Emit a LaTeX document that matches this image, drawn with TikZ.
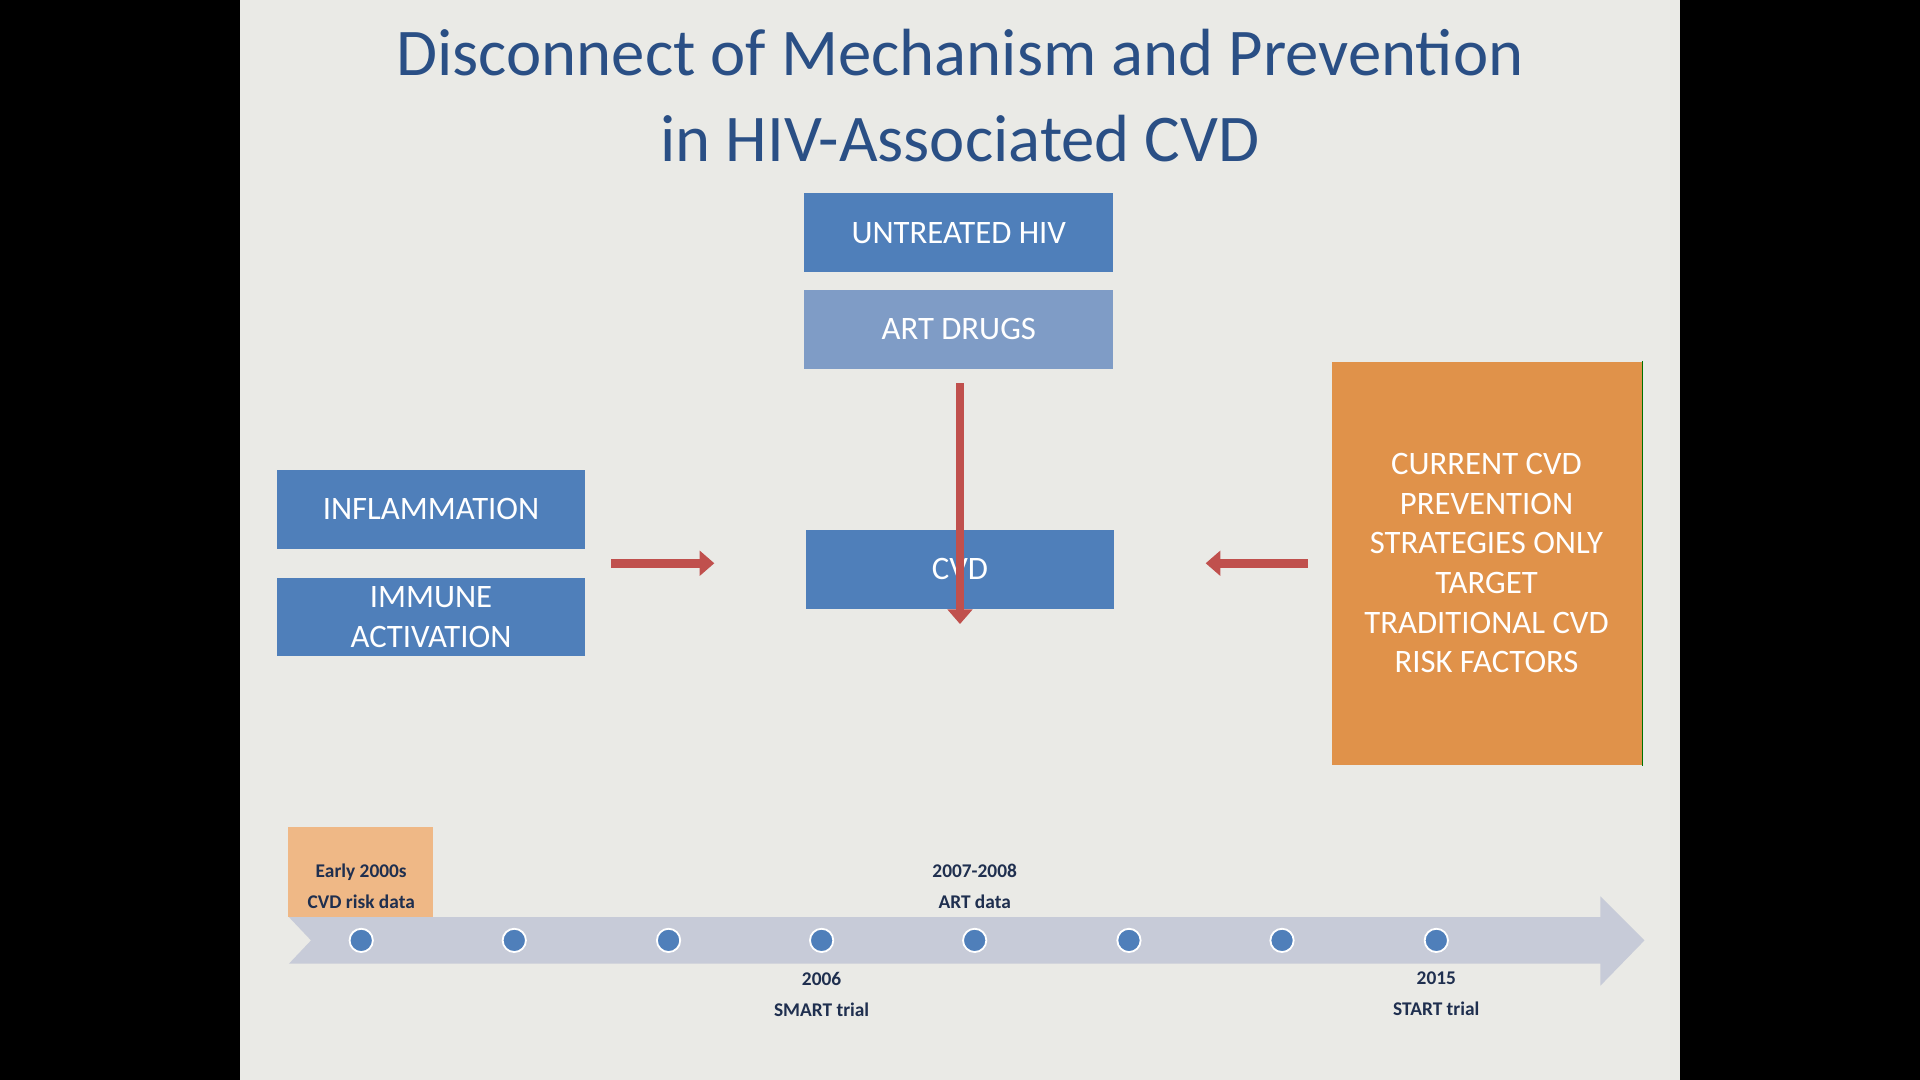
\documentclass[tikz,border=0pt]{standalone}
\usepackage{fontspec}
\setmainfont{Carlito}
\usepackage{tikz}
\usetikzlibrary{arrows.meta}
\definecolor{slidebg}{HTML}{EAEAE6}
\definecolor{titleblue}{HTML}{2A4F85}
\definecolor{boxblue}{HTML}{4F7FBA}
\definecolor{boxlight}{HTML}{7F9CC6}
\definecolor{boxorange}{HTML}{E0924A}
\definecolor{peach}{HTML}{EFB886}
\definecolor{arrowred}{HTML}{C0504D}
\definecolor{arrowdark}{HTML}{6B2A2A}
\definecolor{band}{HTML}{C7CBD8}
\definecolor{tltext}{HTML}{1F2F4F}
\begin{document}
\begin{tikzpicture}[x=0.01cm,y=-0.01cm]
\tikzstyle{every node}+=[inner sep=0pt]
\tikzset{
  blockbox/.style={fill=boxblue, text=white, font=\fontsize{7.6pt}{9.2pt}\selectfont, align=center, minimum width=2.52cm, minimum height=0.64cm},
  redarrow/.style={line width=0.07cm, draw=arrowred, -{Triangle[length=0.12cm,width=0.2cm]}},
  tllabel/.style={text=tltext, font=\fontsize{4.5pt}{7.2pt}\selectfont\bfseries, align=center},
  tldot/.style={circle, fill=boxblue, draw=white, line width=0.015cm, minimum size=0.19cm}
}
% background and slide
\useasboundingbox (0,0) rectangle (1568,882);
\fill [black] (0,0) rectangle (1568,882);
\fill [slidebg] (196,0) rectangle (1372,882);
% title
\node [text=titleblue, font=\fontsize{15.5pt}{20pt}\selectfont, align=center] (title) at (784,78) {Disconnect of Mechanism and Prevention\\in HIV-Associated CVD};
% boxes
\node [blockbox] (hiv) at (783,190) {UNTREATED HIV};
\node [blockbox, fill=boxlight] (art) at (783,269) {ART DRUGS};
\node [blockbox, minimum width=2.51cm] (infl) at (352,416) {INFLAMMATION};
\node [blockbox, minimum width=2.51cm] (immune) at (352,504) {IMMUNE\\ACTIVATION};
\node [blockbox] (cvd) at (784,465) {CVD};
\node [blockbox, fill=boxorange, minimum width=2.53cm, minimum height=3.29cm] (prev) at (1214,460) {CURRENT CVD\\PREVENTION\\STRATEGIES ONLY\\TARGET\\TRADITIONAL CVD\\RISK FACTORS};
\draw [green!45!black, line width=0.012cm] (prev.north east) -- (prev.south east);
% arrows
\coordinate (downtop) at (784,313);
\coordinate (lefttail) at (499,460);
\coordinate (righttail) at (1068,460);
\draw [redarrow] (downtop) -- ([yshift=-22]cvd.north);
\draw [redarrow] (lefttail) -- ([xshift=-21]cvd.west |- lefttail);
\draw [redarrow] (righttail) -- ([xshift=21]cvd.east |- righttail);
% timeline
\fill [band] (236,749) -- (1307,749) -- (1307,732) -- (1343,768) -- (1307,805) -- (1307,787) -- (236,787) -- (254,768) -- cycle;
\fill [peach] (235,675) rectangle (354,749);
\foreach \x/\n in {295/a,420/b,546/c,671/d,796/e,922/f,1047/g,1173/h}
  \node [tldot] (dot\n) at (\x,768) {};
\node [tllabel, above=0.25cm] at (dota) {Early 2000s\\CVD risk data};
\node [tllabel, above=0.25cm] at (dote) {2007-2008\\ART data};
\node [tllabel, below=0.25cm] at (dotd) {2006\\SMART trial};
\node [tllabel, below=0.25cm] at (doth) {2015\\START trial};
\end{tikzpicture}
\end{document}
